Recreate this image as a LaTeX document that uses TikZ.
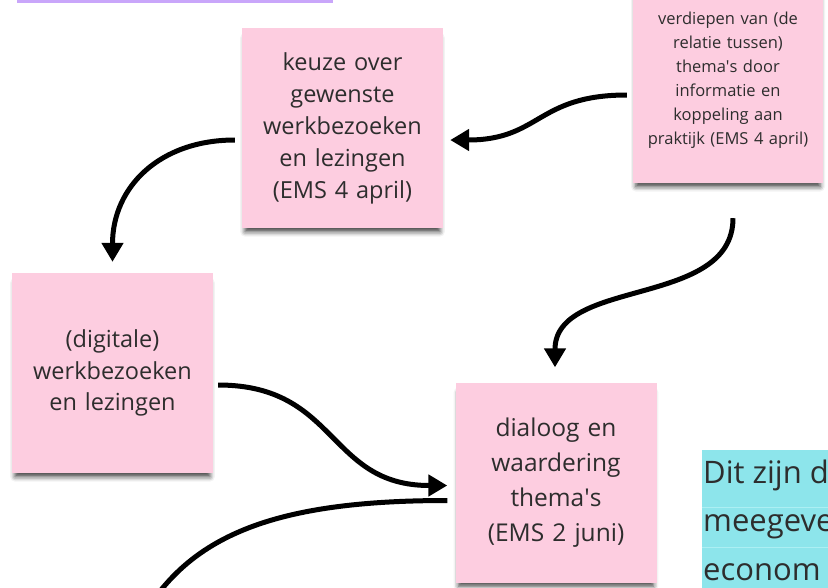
\documentclass[tikz,border=0pt]{standalone}
\usepackage{fontspec}
\setmainfont{Open Sans}
\usetikzlibrary{arrows.meta, calc, shadows.blur}

\definecolor{notepink}{RGB}{253,205,224}
\definecolor{notecyan}{RGB}{141,229,235}
\definecolor{linecyan}{RGB}{172,239,243}
\definecolor{notepurple}{RGB}{201,166,250}
\definecolor{notetext}{RGB}{45,45,45}

\tikzset{
    note/.style={rectangle, fill=notepink, text=notetext, align=center,
        minimum width=201pt, minimum height=200pt, text width=195pt, inner sep=0pt,
        blur shadow={shadow xshift=0pt, shadow yshift=-7pt, shadow blur radius=5pt,
            shadow opacity=75, shadow scale=0.97}},
    flow/.style={line width=5pt, -{Triangle[length=19pt,width=21pt]}},
    cyantext/.style={anchor=base west, inner sep=0pt, text=notetext,
        font=\fontsize{31}{31}\selectfont},
}

\begin{document}
\begin{tikzpicture}[x=1pt, y=-1pt]
        \useasboundingbox (0,0) rectangle (828,587);
        \clip (0,0) rectangle (828,587);

        % strip of the purple note at the top
        \fill[notepurple] (17,-10) rectangle (333,3);

        % Add the notes
        \node[note, minimum width=190pt, minimum height=206pt, text width=188pt,
            font=\fontsize{16.5}{24}\selectfont] (verdiepen) at (728,80)
            {verdiepen van (de\\relatie tussen)\\thema\textquotesingle s door\\informatie en\\koppeling aan\\praktijk (EMS 4 april)};
        \node[note, font=\fontsize{23.5}{32}\selectfont] (keuze) at (342.5,128)
            {keuze over\\gewenste\\werkbezoeken\\en lezingen\\(EMS 4 april)};
        \node[note, font=\fontsize{23.5}{31.5}\selectfont] (digitaal) at (112.5,373)
            {(digitale)\\werkbezoeken\\en lezingen};
        \node[note, font=\fontsize{24.5}{35}\selectfont] (dialoog) at (556,482.5)
            {dialoog en\\waardering\\thema\textquotesingle s\\(EMS 2 juni)};

        % the cyan note on the right
        \fill[notecyan] (702,450) rectangle (840,600);
        \draw[linecyan, line width=1pt] (702,507) -- (840,507) (702,547) -- (840,547);
        \node[cyantext] (dit) at (703,483) {Dit zijn d};
        \node[cyantext] (meegeve) at (703,531) {meegeve};
        \node[cyantext] (econom) at (703,580) {econom};

        % Add the arrows
        \draw[flow] ($(verdiepen.west)+(-6,15)$) .. controls +(-90,0) and +(90,0) .. ($(keuze.east)+(7,12)$);
        \draw[flow] ($(keuze.west)+(-7,12)$) .. controls +(-75,0) and +(0,-75) .. ($(digitaal.north)+(0,-11)$);
        \draw[flow] ($(verdiepen.south)+(5,35)$) .. controls +(0,90) and +(0,-90) .. ($(dialoog.north)+(-1,-15)$);
        \draw[flow] ($(digitaal.east)+(5,12)$) .. controls +(120,0) and +(-120,0) .. ($(dialoog.west)+(-8,3)$);
        \coordinate (uit) at (140,620);
        \draw[flow] ($(dialoog.west)+(-8,18)$) .. controls +(-160,0) and +(60,-90) .. (uit);
\end{tikzpicture}
\end{document}
